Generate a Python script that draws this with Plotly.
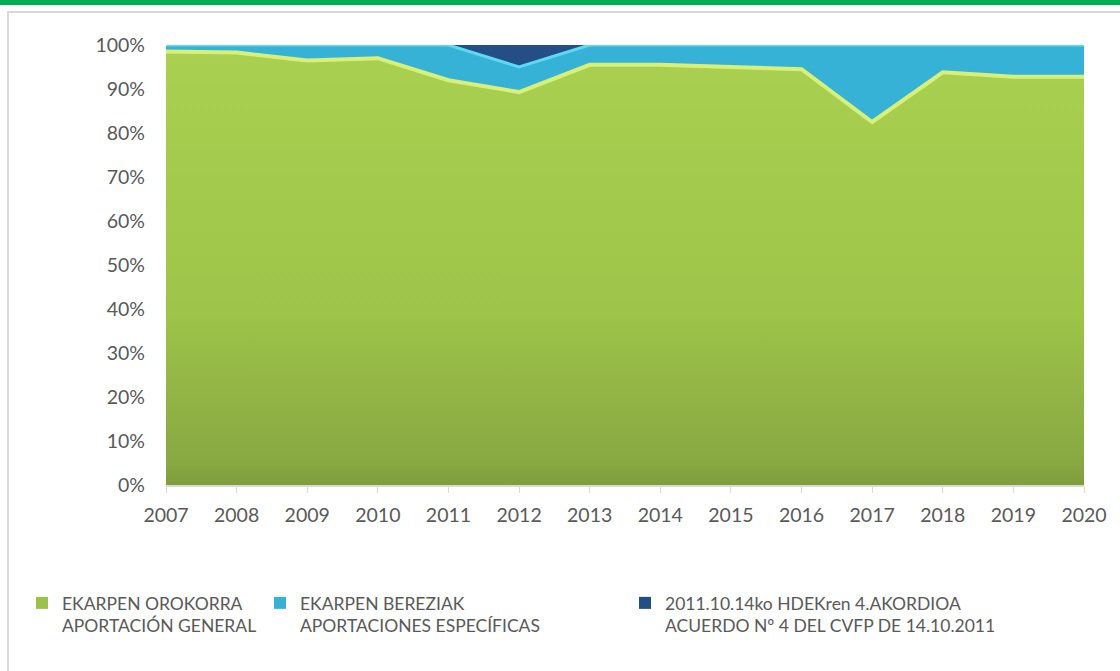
import plotly.graph_objects as go

# shares of total contribution, percent
years = [2007, 2008, 2009, 2010, 2011, 2012, 2013, 2014, 2015, 2016, 2017, 2018, 2019, 2020]
general = [98.5, 98.3, 96.5, 97.0, 92.0, 89.3, 95.5, 95.5, 95.0, 94.5, 82.5, 93.8, 92.8, 92.8]
specific = [1.5, 1.7, 3.5, 3.0, 8.0, 5.7, 4.5, 4.5, 5.0, 5.5, 17.5, 6.2, 7.2, 7.2]
acuerdo = [0, 0, 0, 0, 0, 5.0, 0, 0, 0, 0, 0, 0, 0, 0]

names = [
    "EKARPEN OROKORRA<br>APORTACIÓN GENERAL",
    "EKARPEN BEREZIAK<br>APORTACIONES ESPECÍFICAS",
    "2011.10.14ko HDEKren 4.AKORDIOA<br>ACUERDO Nº 4 DEL CVFP DE 14.10.2011",
]
fills = ["#9cc248", "#36b2d6", "#234e86"]

FONT = "Lato"
GREY = "#595959"

fig = go.Figure()
fig.add_trace(go.Scatter(
    x=years, y=general, name=names[0], stackgroup="one", mode="lines",
    line=dict(color="#d8f07a", width=4), showlegend=False,
    fillgradient=dict(type="vertical",
                      colorscale=[[0, "#7f9d3b"], [0.05, "#88a842"],
                                  [0.4, "#9ec449"], [1, "#aad051"]]),
))
fig.add_trace(go.Scatter(
    x=years, y=specific, name=names[1], stackgroup="one", mode="lines",
    line=dict(color="#5fd8f2", width=3), showlegend=False,
    fillcolor="#36b2d6",
))
fig.add_trace(go.Scatter(
    x=years, y=acuerdo, name=names[2], stackgroup="one", mode="lines",
    line=dict(color="#2a5a96", width=0), showlegend=False,
    fillcolor="#234e86",
))

# legend entries with square keys, one legend each so they sit where the original has them
legend_ids = ["legend", "legend2", "legend3"]
for name, color, lid in zip(names, fills, legend_ids):
    fig.add_trace(go.Scatter(
        x=[None], y=[None], mode="markers", name=name, legend=lid,
        marker=dict(symbol="square", size=12, color=color),
    ))

# plot area in px: x 166..1084, y 45..485
def px_x(v):
    return (v - 166) / 918


def px_y(v):
    return (485 - v) / 440


# outer frame and green band
fig.add_shape(type="rect", xref="paper", yref="paper",
              x0=px_x(8), x1=px_x(1140), y0=px_y(700), y1=px_y(12),
              line=dict(color="#d9d9d9", width=2), layer="below")
fig.add_shape(type="rect", xref="paper", yref="paper",
              x0=px_x(-10), x1=px_x(1140), y0=px_y(5), y1=px_y(-10),
              line=dict(width=0), fillcolor="#00b050")

leg_common = dict(orientation="v", xanchor="left", yanchor="top", valign="top",
                  font=dict(family=FONT, size=17.5, color=GREY),
                  bgcolor="rgba(0,0,0,0)", itemwidth=30)
leg_top = px_y(585)

fig.update_layout(
    width=1120, height=671,
    margin=dict(l=166, r=36, t=45, b=186),
    paper_bgcolor="white", plot_bgcolor="white",
    font=dict(family=FONT, color=GREY, size=18),
    showlegend=True,
    legend=dict(x=px_x(22), y=leg_top, **leg_common),
    legend2=dict(x=px_x(260), y=leg_top, **leg_common),
    legend3=dict(x=px_x(625), y=leg_top, **leg_common),
    xaxis=dict(range=[2007, 2020], tickvals=years, showgrid=False,
               showline=True, linecolor="#d9d9d9", linewidth=1.5,
               ticks="outside", tickcolor="#d9d9d9", ticklen=6,
               ticklabelstandoff=6, tickfont=dict(size=19.5), zeroline=False),
    yaxis=dict(range=[0, 100], dtick=10, ticksuffix="%", showgrid=False,
               showline=False, zeroline=False, ticklabelstandoff=20,
               tickfont=dict(size=19.5)),
)

fig.write_html("out.html", config={"displayModeBar": False},
               post_script="document.body.style.margin='0';")
